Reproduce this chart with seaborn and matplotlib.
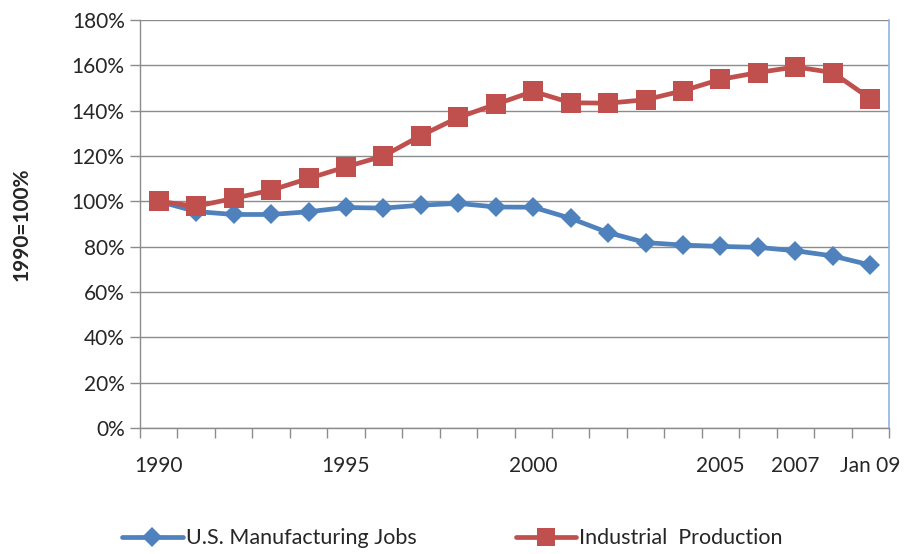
import matplotlib
matplotlib.use("Agg")
import matplotlib.pyplot as plt
import seaborn as sns
import pandas as pd
import numpy as np
from matplotlib.lines import Line2D

categories = ["1990", "1991", "1992", "1993", "1994", "1995", "1996", "1997", "1998", "1999",
              "2000", "2001", "2002", "2003", "2004", "2005", "2006", "2007", "2008", "Jan 09"]
jobs = [100, 95.5, 94.2, 94.2, 95.4, 97.3, 97.0, 98.3, 99.1, 97.5,
        97.4, 92.5, 86.2, 81.8, 80.7, 80.1, 79.7, 78.2, 75.9, 71.9]
production = [100, 97.8, 101.3, 104.9, 110.1, 115.2, 120.0, 129.0, 137.0, 142.8,
              148.5, 143.5, 143.3, 144.8, 148.8, 153.8, 156.8, 159.3, 156.8, 145.3]
shown_labels = ["1990", "1995", "2000", "2005", "2007", "Jan 09"]
series_names = ["U.S. Manufacturing Jobs", "Industrial  Production"]

df = pd.DataFrame({
    "idx": list(range(len(categories))) * 2,
    "value": jobs + production,
    "series": [series_names[0]] * len(categories) + [series_names[1]] * len(categories),
})

sns.set_style("white")
plt.rcParams["font.family"] = ["Lato", "DejaVu Sans"]

fig = plt.figure(figsize=(9.05, 5.54), dpi=100)
ax = fig.add_axes([140 / 905, 1 - 428 / 554, (889 - 140) / 905, (428 - 20) / 554])

blue = "#4F81BD"
red = "#C0504D"
palette = {series_names[0]: blue, series_names[1]: red}
sns.lineplot(data=df, x="idx", y="value", hue="series", style="series",
             palette=palette, markers={series_names[0]: "D", series_names[1]: "s"},
             dashes=False, linewidth=3.4, ax=ax, legend=False)
for line in ax.lines:
    if matplotlib.colors.to_hex(line.get_color()) == blue.lower():
        line.set_markersize(10.5)
    else:
        line.set_markersize(14.5)
    line.set_markeredgewidth(0)

fs = 15
ax.set_xlim(-0.5, len(categories) - 0.5)
ax.set_ylim(0, 180)
ax.set_yticks(np.arange(0, 181, 20))
ax.set_yticklabels([f"{v}%" for v in range(0, 181, 20)], fontsize=fs)
ax.yaxis.grid(True, color="#8c8c8c", linewidth=1)
ax.set_axisbelow(True)

ax.set_xticks(np.arange(-0.5, len(categories), 1.0))
ax.set_xticklabels([])
ax.set_xticks([categories.index(l) for l in shown_labels], minor=True)
ax.set_xticklabels(shown_labels, minor=True, fontsize=fs)
ax.tick_params(axis="x", which="major", length=7, color="#8c8c8c", width=1, direction="out", bottom=True)
ax.tick_params(axis="x", which="minor", length=0, pad=20)
ax.tick_params(axis="y", length=7, color="#8c8c8c", width=1, direction="out", left=True, pad=4)

ax.set_xlabel("")
ax.set_ylabel("1990=100%", fontsize=fs, fontweight="bold", labelpad=29)

for s in ["left", "bottom"]:
    ax.spines[s].set_color("#8c8c8c")
    ax.spines[s].set_linewidth(1)
ax.spines["top"].set_visible(False)
ax.spines["right"].set_color("#8EB4E3")
ax.spines["right"].set_linewidth(1.2)

handles = [
    Line2D([], [], color=blue, marker="D", markersize=10, linewidth=3.4, markeredgewidth=0),
    Line2D([], [], color=red, marker="s", markersize=13, linewidth=3.4, markeredgewidth=0),
]
fig.legend(handles, series_names, loc="center", bbox_to_anchor=(0.5, 0.028), ncol=2,
           frameon=False, fontsize=15.5, handlelength=2.8, columnspacing=4.6, handletextpad=0.15)

fig.savefig("out.png", dpi=100)
